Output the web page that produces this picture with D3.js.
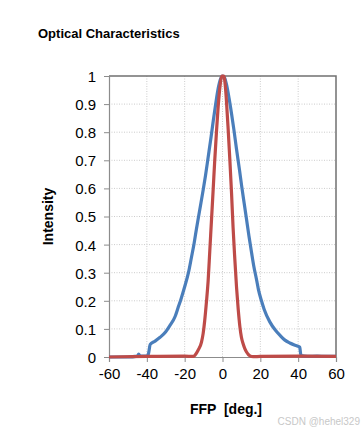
<!DOCTYPE html>
<html>
<head>
<meta charset="utf-8">
<script src="https://cdn.jsdelivr.net/npm/d3@7"></script>
<style>
  body { margin: 0; background: #fff; }
  text { font-family: "Liberation Sans", Arial, sans-serif; }
</style>
</head>
<body>
<div id="chart"></div>
<script>
// far field pattern
var blueX = [-60, -50, -45, -44.3, -43.5, -40, -39.2, -38.2, -36, -33, -30, -28, -25, -23.5, -22, -20, -18, -16.4, -15, -13.8, -12, -10.2, -9, -7.6, -6, -4.9, -3.5, -2.3, -1, 0, 1, 2.1, 3.5, 4.8, 6, 7.4, 9, 10.1, 11.5, 12.7, 14, 15.4, 16.5, 18, 19, 20.6, 22, 25, 28, 30.4, 33, 35.6, 38, 40, 40.8, 41.5, 45, 50, 55, 60];
var blueY = [0, 0, 0.003, 0.01, 0.003, 0.003, 0.01, 0.045, 0.055, 0.07, 0.09, 0.11, 0.145, 0.175, 0.205, 0.25, 0.3, 0.355, 0.405, 0.455, 0.525, 0.595, 0.645, 0.71, 0.785, 0.84, 0.905, 0.955, 0.99, 1.0, 0.995, 0.97, 0.92, 0.865, 0.81, 0.74, 0.665, 0.61, 0.545, 0.49, 0.43, 0.37, 0.325, 0.275, 0.24, 0.2, 0.17, 0.125, 0.095, 0.077, 0.06, 0.05, 0.043, 0.038, 0.035, 0.005, 0.002, 0.003, 0.002, 0.002];
var redX = [-60, -40, -20, -15.5, -14.6, -12.9, -11.1, -10.2, -9.4, -8.5, -7.6, -6.7, -5.8, -4.9, -4.1, -3.2, -2.3, -1.2, -0.4, 0.7, 1.4, 2.1, 3, 3.9, 4.8, 5.6, 6.5, 7.4, 8.3, 9.2, 10, 10.9, 11.8, 12.7, 14.5, 16.2, 20, 40, 60];
var redY = [0, 0.002, 0.003, 0.002, 0.006, 0.024, 0.053, 0.085, 0.13, 0.195, 0.27, 0.38, 0.49, 0.6, 0.7, 0.8, 0.89, 0.97, 1.0, 1.0, 0.97, 0.91, 0.81, 0.7, 0.58, 0.46, 0.35, 0.25, 0.17, 0.107, 0.07, 0.047, 0.03, 0.018, 0.004, 0.001, 0.002, 0.003, 0.002];
var xTicks = [-60, -40, -20, 0, 20, 40, 60];
var yTicks = [0, 0.1, 0.2, 0.3, 0.4, 0.5, 0.6, 0.7, 0.8, 0.9, 1];

var W = 363, H = 433;
var margin = {left: 109, right: 27, top: 76, bottom: 76};
var pw = W - margin.left - margin.right,
    ph = H - margin.top - margin.bottom;

var svg = d3.select("#chart").append("svg")
    .attr("width", W)
    .attr("height", H);

svg.append("text")
    .attr("x", 38).attr("y", 38)
    .attr("font-size", 13).attr("font-weight", "bold")
    .attr("fill", "#000")
    .text("Optical Characteristics");

var g = svg.append("g")
    .attr("transform", "translate(" + margin.left + "," + margin.top + ")");

var x = d3.scaleLinear().domain([-60, 60]).range([0, pw]);
var y = d3.scaleLinear().domain([0, 1]).range([ph, 0]);

// grid
g.selectAll(".vgrid").data(xTicks.slice(1, -1)).enter().append("line")
    .attr("x1", function (d) { return x(d); }).attr("x2", function (d) { return x(d); })
    .attr("y1", 0).attr("y2", ph)
    .attr("stroke", "#cccccc").attr("stroke-dasharray", "1,1.5");
g.selectAll(".hgrid").data(yTicks.slice(1, -1)).enter().append("line")
    .attr("y1", function (d) { return y(d); }).attr("y2", function (d) { return y(d); })
    .attr("x1", 0).attr("x2", pw)
    .attr("stroke", "#cccccc").attr("stroke-dasharray", "1,1.5");

// frame top/right
g.append("path")
    .attr("d", "M0,0H" + pw + "V" + ph)
    .attr("fill", "none").attr("stroke", "#707070").attr("stroke-width", 1.5);

var fmt = function (d) { return String(d); };
var yAxis = g.append("g")
    .call(d3.axisLeft(y).tickValues(yTicks).tickSize(5).tickPadding(8).tickFormat(fmt));
var xAxis = g.append("g")
    .attr("transform", "translate(0," + ph + ")")
    .call(d3.axisBottom(x).tickValues(xTicks).tickSize(5).tickPadding(6).tickFormat(fmt));

[yAxis, xAxis].forEach(function (ax) {
    ax.select(".domain").attr("stroke", "#8c8c8c").attr("stroke-width", 1.2);
    ax.selectAll(".tick line").attr("stroke", "#8c8c8c");
    ax.selectAll("text")
        .attr("font-size", 15)
        .attr("fill", "#000")
        .style("font-family", "'Liberation Sans', Arial, sans-serif");
});
yAxis.selectAll("text").attr("dy", "0.36em");

var line = d3.line()
    .x(function (d) { return x(d[0]); })
    .y(function (d) { return y(d[1]); })
    .curve(d3.curveMonotoneX);

g.append("path")
    .datum(blueX.map(function (v, i) { return [v, blueY[i]]; }))
    .attr("d", line)
    .attr("fill", "none").attr("stroke", "#4a7ebb").attr("stroke-width", 3.2)
    .attr("stroke-linejoin", "round");
g.append("path")
    .datum(redX.map(function (v, i) { return [v, redY[i]]; }))
    .attr("d", line)
    .attr("fill", "none").attr("stroke", "#be4b48").attr("stroke-width", 3.2)
    .attr("stroke-linejoin", "round");

svg.append("text")
    .attr("transform", "translate(53," + (margin.top + ph / 2) + ") rotate(-90)")
    .attr("text-anchor", "middle")
    .attr("font-size", 14).attr("font-weight", "bold")
    .text("Intensity");

svg.append("text")
    .attr("x", 226).attr("y", 414)
    .attr("text-anchor", "middle")
    .attr("font-size", 14).attr("font-weight", "bold")
    .attr("xml:space", "preserve")
    .style("white-space", "pre")
    .text("FFP  [deg.]");

svg.append("text")
    .attr("x", 360).attr("y", 425)
    .attr("text-anchor", "end")
    .attr("font-size", 10)
    .attr("fill", "#c8c8c8")
    .text("CSDN @hehel329");
</script>
</body>
</html>
